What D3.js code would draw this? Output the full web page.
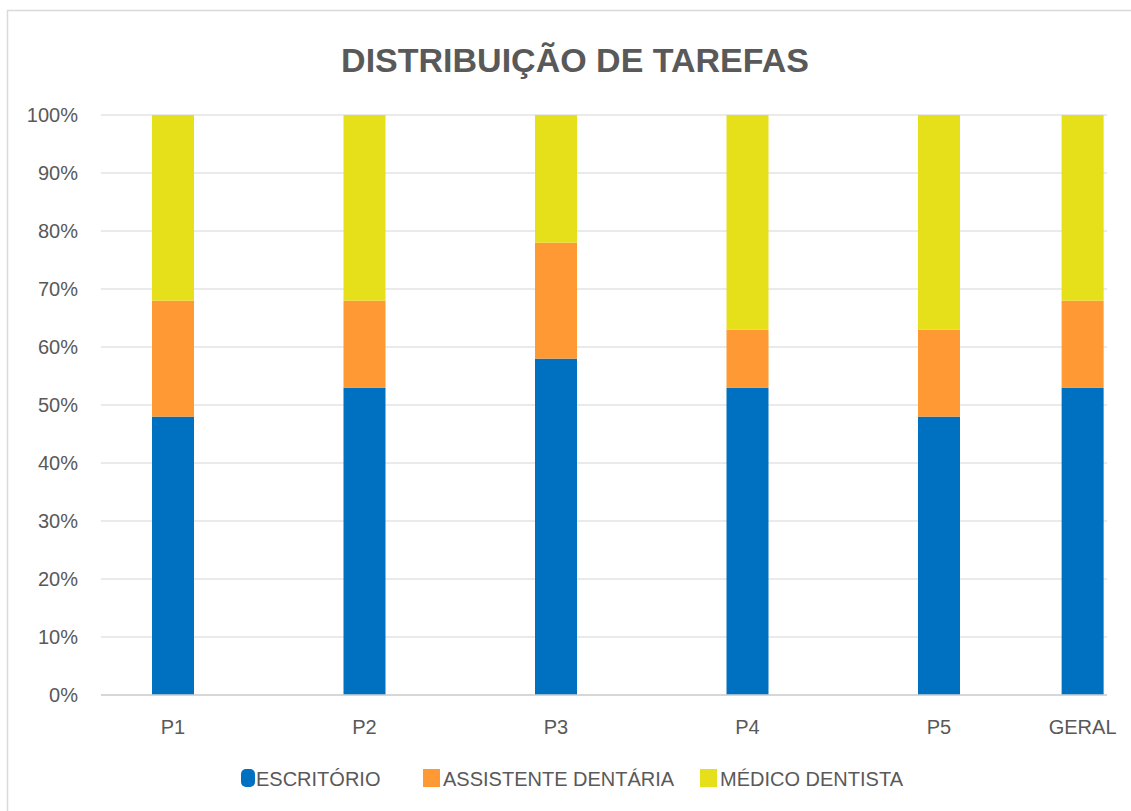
<!DOCTYPE html>
<html>
<head>
<meta charset="utf-8">
<script src="https://cdn.jsdelivr.net/npm/d3@7"></script>
<style>
  body { margin: 0; background: #fff; }
  text { font-family: "Liberation Sans", Arial, sans-serif; fill: #595959; }
</style>
</head>
<body>
<script>
// data
var categories = ['P1', 'P2', 'P3', 'P4', 'P5', 'GERAL'];
var slots = [0, 1, 2, 3, 4, 4.75]; // GERAL sits closer to P5 in the original
var series = ['ESCRITÓRIO', 'ASSISTENTE DENTÁRIA', 'MÉDICO DENTISTA'];
var escritorio = [48, 53, 58, 53, 48, 53];
var assistente = [20, 15, 20, 10, 15, 15];
var medico = [32, 32, 22, 37, 37, 32];
var yTicks = [0, 10, 20, 30, 40, 50, 60, 70, 80, 90, 100];
var colors = ['#0070c0', '#ff9933', '#e6e01a'];

var W = 1131, H = 811;
var margin = {top: 115, right: 24, bottom: 116, left: 101};
var width = W - margin.left - margin.right;
var height = H - margin.top - margin.bottom;

var root = d3.select('body').append('svg')
  .attr('width', W)
  .attr('height', H);

// outer border
root.append('rect')
  .attr('x', 7.5).attr('y', 10.5)
  .attr('width', W).attr('height', H)
  .attr('fill', 'none')
  .attr('stroke', '#d9d9d9')
  .attr('stroke-width', 1.5);

root.append('text')
  .attr('x', 575)
  .attr('y', 72)
  .attr('text-anchor', 'middle')
  .style('font-size', '34px')
  .style('font-weight', 'bold')
  .text('DISTRIBUIÇÃO DE TAREFAS');

var svg = root.append('g')
  .attr('transform', 'translate(' + margin.left + ',' + margin.top + ')');

var xScale = d3.scaleLinear()
  .domain([0, 4])
  .range([72, 838]);

var yScale = d3.scaleLinear()
  .domain([0, 100])
  .range([height, 0]);

var barW = 42;

// gridlines
svg.selectAll('.grid')
  .data(yTicks)
  .enter().append('line')
  .attr('class', 'grid')
  .attr('x1', 0).attr('x2', width)
  .attr('y1', function(d){ return yScale(d); })
  .attr('y2', function(d){ return yScale(d); })
  .attr('stroke', '#e3e3e3')
  .attr('stroke-width', 1.5);

// y axis labels
var yAxis = d3.axisLeft(yScale)
  .tickValues(yTicks)
  .tickFormat(function(d){ return d + '%'; })
  .tickSize(0)
  .tickPadding(23);

svg.append('g')
  .attr('class', 'y axis')
  .call(yAxis)
  .call(function(g){ g.select('.domain').remove(); })
  .selectAll('text')
  .style('font-size', '20px')
  .attr('fill', '#595959');

// stacked bars
var rows = categories.map(function(c, i){
  return {cat: c, slot: slots[i], 'ESCRITÓRIO': escritorio[i],
    'ASSISTENTE DENTÁRIA': assistente[i], 'MÉDICO DENTISTA': medico[i]};
});

var stacked = d3.stack().keys(series)(rows);

svg.selectAll('.layer')
  .data(stacked)
  .enter().append('g')
  .attr('class', 'layer')
  .attr('fill', function(d, i){ return colors[i]; })
  .selectAll('rect')
  .data(function(d){ return d; })
  .enter().append('rect')
  .attr('x', function(d){ return xScale(d.data.slot) - barW / 2; })
  .attr('y', function(d){ return yScale(d[1]); })
  .attr('width', barW)
  .attr('height', function(d){ return yScale(d[0]) - yScale(d[1]); });

// x axis line
svg.append('line')
  .attr('x1', 0).attr('x2', width)
  .attr('y1', height).attr('y2', height)
  .attr('stroke', '#d0d0d0')
  .attr('stroke-width', 1.5);

svg.selectAll('.xlabel')
  .data(rows)
  .enter().append('text')
  .attr('class', 'xlabel')
  .attr('x', function(d){ return xScale(d.slot); })
  .attr('y', height + 39)
  .attr('text-anchor', 'middle')
  .style('font-size', '20px')
  .text(function(d){ return d.cat; });

// legend
var legendX = [241, 423, 700];
var legend = root.selectAll('.legend')
  .data(series)
  .enter().append('g')
  .attr('class', 'legend')
  .attr('transform', function(d, i){ return 'translate(' + legendX[i] + ',769)'; });

legend.append('rect')
  .attr('width', function(d, i){ return i === 0 ? 14 : 17; })
  .attr('height', 18)
  .attr('rx', function(d, i){ return i === 0 ? 5 : 0; })
  .attr('fill', function(d, i){ return colors[i]; });

legend.append('text')
  .attr('x', function(d, i){ return i === 0 ? 15 : 20; })
  .attr('y', 17)
  .style('font-size', '20px')
  .text(function(d){ return d; });
</script>
</body>
</html>
